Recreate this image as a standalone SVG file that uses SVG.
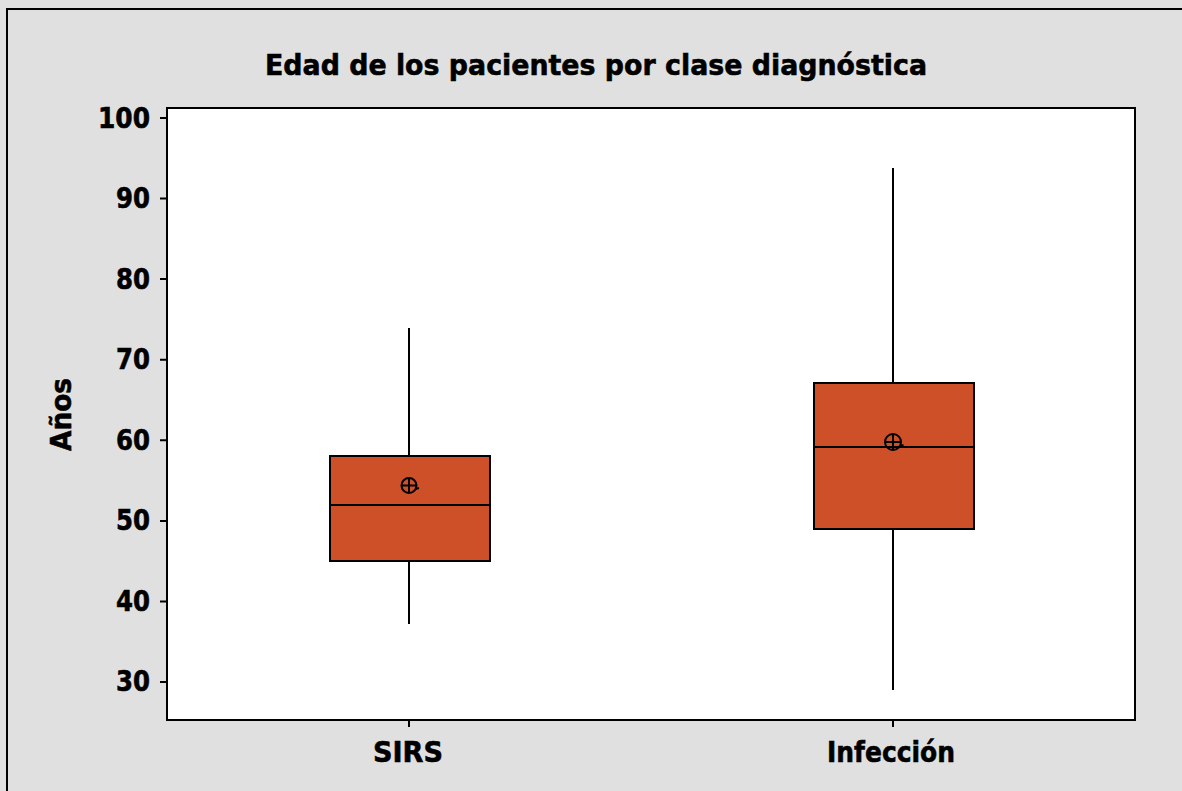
<svg xmlns="http://www.w3.org/2000/svg" width="1182" height="791" viewBox="0 0 1182 791">
<style>
.t{font-family:"DejaVu Sans",Verdana,sans-serif;font-weight:bold;fill:#000;stroke:#000;stroke-width:0.6}
.box{fill:#cd5028;stroke:#000;stroke-width:2}
.ln{stroke:#000;stroke-width:2;fill:none}
</style>
<rect x="0" y="0" width="1182" height="791" fill="#e0e0e0"/>
<path d="M7 791 V9 H1182" class="ln" stroke-width="2.5"/>
<rect x="167" y="108" width="968" height="612" fill="#fff" stroke="#000" stroke-width="2"/>
<text class="t" x="596" y="75" font-size="29" text-anchor="middle" textLength="662" lengthAdjust="spacingAndGlyphs">Edad de los pacientes por clase diagnóstica</text>
<g id="yaxis">
<path class="ln" d="M160 118H167M160 198.6H167M160 279.1H167M160 359.7H167M160 440.3H167M160 520.9H167M160 601.4H167M160 682H167"/>
<g class="t" font-size="28" text-anchor="end">
<text x="150" y="127.5" textLength="52" lengthAdjust="spacingAndGlyphs">100</text>
<text x="150" y="208" textLength="34" lengthAdjust="spacingAndGlyphs">90</text>
<text x="150" y="288.5" textLength="34" lengthAdjust="spacingAndGlyphs">80</text>
<text x="150" y="369" textLength="34" lengthAdjust="spacingAndGlyphs">70</text>
<text x="150" y="449.5" textLength="34" lengthAdjust="spacingAndGlyphs">60</text>
<text x="150" y="530" textLength="34" lengthAdjust="spacingAndGlyphs">50</text>
<text x="150" y="610.5" textLength="34" lengthAdjust="spacingAndGlyphs">40</text>
<text x="150" y="691" textLength="34" lengthAdjust="spacingAndGlyphs">30</text>
</g>
<text class="t" font-size="29" text-anchor="middle" textLength="73" lengthAdjust="spacingAndGlyphs" transform="translate(71 414.5) rotate(-90)">Años</text>
</g>
<g id="xaxis">
<path class="ln" d="M409 720V727M893 720V727"/>
<text class="t" x="408" y="762" font-size="28.5" text-anchor="middle" textLength="70" lengthAdjust="spacingAndGlyphs">SIRS</text>
<text class="t" x="891" y="762" font-size="28.5" text-anchor="middle" textLength="128" lengthAdjust="spacingAndGlyphs">Infección</text>
</g>
<g id="connectors">
<path class="ln" d="M409 328V456M409 561V624M893 168V383M893 529V690"/>
</g>
<g id="sirs">
<rect class="box" x="330" y="456" width="160" height="105"/>
<path class="ln" d="M330 505H490"/>
<circle cx="409" cy="485.5" r="7.5" class="ln"/>
<path class="ln" d="M401.5 485.5H416.5M409 478V493M415.5 489L419 488"/>
</g>
<g id="infeccion">
<rect class="box" x="814" y="383" width="160" height="146"/>
<path class="ln" d="M814 447H974"/>
<circle cx="893" cy="442" r="8" class="ln"/>
<path class="ln" d="M885 442H901M893 434V450M899.5 446L903.5 445"/>
</g>
</svg>
